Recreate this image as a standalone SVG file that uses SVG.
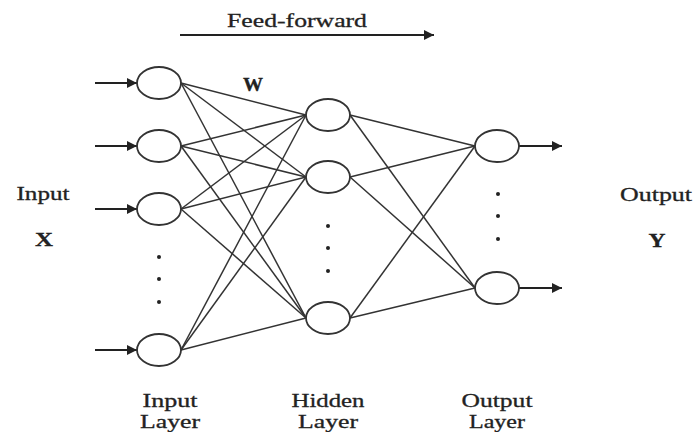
<svg xmlns="http://www.w3.org/2000/svg" width="695" height="432" viewBox="0 0 695 432">
<style>
.node{fill:#fff;stroke:#333;stroke-width:1.8}
.edge{stroke:#333;stroke-width:1.5;fill:none}
.arr{stroke:#222;stroke-width:1.8;fill:none}
.dot{fill:#222}
.t{font-family:"Liberation Serif","Times New Roman",serif;font-size:19px;fill:#222;stroke:#222;stroke-width:0.3;text-anchor:middle}
.b{font-weight:bold}
</style>
<defs>
<marker id="ah" viewBox="0 0 10 10" refX="10" refY="5" markerWidth="14" markerHeight="10" markerUnits="userSpaceOnUse" orient="auto">
<path d="M0,0 L10,5 L0,10 z" fill="#222"/>
</marker>
</defs>
<rect width="695" height="432" fill="#fff"/>
<g id="feedforward">
<text class="t" x="297" y="27" textLength="140" lengthAdjust="spacingAndGlyphs">Feed-forward</text>
<line class="arr" x1="180" y1="35" x2="434" y2="35" stroke-width="2" marker-end="url(#ah)"/>
</g>
<g id="connectors">
<line class="edge" x1="181" y1="83" x2="306" y2="115"/>
<line class="edge" x1="181" y1="83" x2="306" y2="177"/>
<line class="edge" x1="181" y1="83" x2="306" y2="318"/>
<line class="edge" x1="181" y1="146" x2="306" y2="115"/>
<line class="edge" x1="181" y1="146" x2="306" y2="177"/>
<line class="edge" x1="181" y1="146" x2="306" y2="318"/>
<line class="edge" x1="181" y1="209" x2="306" y2="115"/>
<line class="edge" x1="181" y1="209" x2="306" y2="177"/>
<line class="edge" x1="181" y1="209" x2="306" y2="318"/>
<line class="edge" x1="181" y1="350" x2="306" y2="115"/>
<line class="edge" x1="181" y1="350" x2="306" y2="177"/>
<line class="edge" x1="181" y1="350" x2="306" y2="318"/>
<line class="edge" x1="350" y1="115" x2="475" y2="146"/>
<line class="edge" x1="350" y1="115" x2="475" y2="288"/>
<line class="edge" x1="350" y1="177" x2="475" y2="146"/>
<line class="edge" x1="350" y1="177" x2="475" y2="288"/>
<line class="edge" x1="350" y1="318" x2="475" y2="146"/>
<line class="edge" x1="350" y1="318" x2="475" y2="288"/>
<line class="arr" x1="95" y1="83" x2="137" y2="83" marker-end="url(#ah)"/>
<line class="arr" x1="95" y1="146" x2="137" y2="146" marker-end="url(#ah)"/>
<line class="arr" x1="95" y1="209" x2="137" y2="209" marker-end="url(#ah)"/>
<line class="arr" x1="95" y1="350" x2="137" y2="350" marker-end="url(#ah)"/>
<line class="arr" x1="519" y1="146" x2="562" y2="146" marker-end="url(#ah)"/>
<line class="arr" x1="519" y1="288" x2="562" y2="288" marker-end="url(#ah)"/>
</g>
<g id="in1"><ellipse class="node" cx="159" cy="83" rx="22" ry="16"/></g>
<g id="in2"><ellipse class="node" cx="159" cy="146" rx="22" ry="16"/></g>
<g id="in3"><ellipse class="node" cx="159" cy="209" rx="22" ry="16"/></g>
<g id="in4"><ellipse class="node" cx="159" cy="350" rx="22" ry="16"/></g>
<g id="h1"><ellipse class="node" cx="328" cy="115" rx="22" ry="16"/></g>
<g id="h2"><ellipse class="node" cx="328" cy="177" rx="22" ry="16"/></g>
<g id="h3"><ellipse class="node" cx="328" cy="318" rx="22" ry="16"/></g>
<g id="o1"><ellipse class="node" cx="497" cy="146" rx="22" ry="16"/></g>
<g id="o2"><ellipse class="node" cx="497" cy="288" rx="22" ry="16"/></g>
<g id="dots">
<circle class="dot" cx="159" cy="257" r="2"/>
<circle class="dot" cx="159" cy="279" r="2"/>
<circle class="dot" cx="159" cy="302" r="2"/>
<circle class="dot" cx="328" cy="226" r="2"/>
<circle class="dot" cx="328" cy="248" r="2"/>
<circle class="dot" cx="328" cy="271" r="2"/>
<circle class="dot" cx="498" cy="194" r="2"/>
<circle class="dot" cx="498" cy="216" r="2"/>
<circle class="dot" cx="498" cy="239" r="2"/>
</g>
<g id="labels">
<text class="t b" x="253" y="91" textLength="20" lengthAdjust="spacingAndGlyphs">W</text>
<text class="t" x="43" y="200" textLength="53" lengthAdjust="spacingAndGlyphs">Input</text>
<text class="t b" x="44" y="246" textLength="18" lengthAdjust="spacingAndGlyphs">X</text>
<text class="t" x="656" y="201" textLength="72" lengthAdjust="spacingAndGlyphs">Output</text>
<text class="t b" x="657" y="247" textLength="17" lengthAdjust="spacingAndGlyphs">Y</text>
<text class="t" x="170" y="407" textLength="55" lengthAdjust="spacingAndGlyphs">Input</text>
<text class="t" x="170" y="428" textLength="60" lengthAdjust="spacingAndGlyphs">Layer</text>
<text class="t" x="328" y="407" textLength="73" lengthAdjust="spacingAndGlyphs">Hidden</text>
<text class="t" x="328" y="428" textLength="60" lengthAdjust="spacingAndGlyphs">Layer</text>
<text class="t" x="497" y="407" textLength="71" lengthAdjust="spacingAndGlyphs">Output</text>
<text class="t" x="497" y="428" textLength="56" lengthAdjust="spacingAndGlyphs">Layer</text>
</g>
</svg>
